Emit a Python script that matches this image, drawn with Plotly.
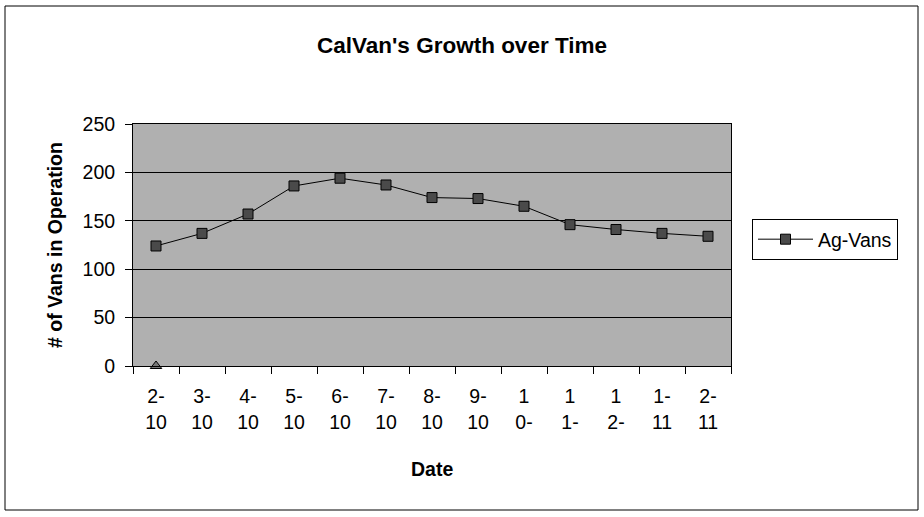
import plotly.graph_objects as go

dates = ["2-10", "3-10", "4-10", "5-10", "6-10", "7-10", "8-10", "9-10",
         "10-10", "11-10", "12-10", "1-11", "2-11"]
tick_labels = ["2-<br>10", "3-<br>10", "4-<br>10", "5-<br>10", "6-<br>10", "7-<br>10",
               "8-<br>10", "9-<br>10", "1<br>0-", "1<br>1-", "1<br>2-", "1-<br>11", "2-<br>11"]
ag_vans = [124, 137, 157, 186, 194, 187, 174, 173, 165, 146, 141, 137, 134]
other_dates = ["2-10"]
other_vals = [0]
y_ticks = [0, 50, 100, 150, 200, 250]

W, H = 924, 517
L, R, T, B = 133, 193, 124, 151
pw, ph = W - L - R, H - T - B

def px_x(x):
    return (x - L) / pw

def px_y(y):
    return (H - B - y) / ph

FONT = "Liberation Sans, Arial, sans-serif"

fig = go.Figure()
fig.add_trace(go.Scatter(
    x=dates, y=ag_vans, name="Ag-Vans", mode="lines+markers",
    line=dict(color="black", width=1),
    marker=dict(symbol="square", size=10, color="#4a4a4a",
                line=dict(color="black", width=1)),
))
fig.add_trace(go.Scatter(
    x=other_dates, y=other_vals, name="Other", mode="markers", showlegend=False,
    marker=dict(symbol="triangle-up", size=10, color="#777777",
                line=dict(color="black", width=1)),
    cliponaxis=False,
))

fig.update_layout(
    width=W, height=H,
    margin=dict(l=L, r=R, t=T, b=B, autoexpand=False),
    paper_bgcolor="white",
    plot_bgcolor="#b0b0b0",
    font=dict(family=FONT, size=20, color="black"),
    title=dict(text="<b>CalVan's Growth over Time</b>", x=0.5, xanchor="center",
               y=1 - 45 / H, yanchor="middle", font=dict(size=22.5, family=FONT)),
    xaxis=dict(
        type="category", categoryorder="array", categoryarray=dates,
        tickmode="array", tickvals=dates, ticktext=tick_labels,
        tickson="boundaries", ticks="outside", ticklen=7, tickcolor="black",
        showline=True, linecolor="black", linewidth=1, mirror=True,
        showgrid=False, range=[-0.5, len(dates) - 0.5],
        tickfont=dict(size=19.5), ticklabelstandoff=13,
    ),
    yaxis=dict(
        range=[0, 250], tickvals=y_ticks, ticks="outside", ticklen=7,
        tickcolor="black", showline=True, linecolor="black", linewidth=1,
        mirror=True, showgrid=True, gridcolor="black", gridwidth=1,
        zeroline=False, tickfont=dict(size=19.5), ticklabelstandoff=6,
    ),
    legend=dict(
        x=px_x(752), y=px_y(219), xanchor="left", yanchor="top",
        bordercolor="black", borderwidth=1, bgcolor="white",
        font=dict(size=19.5), itemwidth=55,
    ),
    annotations=[
        dict(text="<b># of Vans in Operation</b>", xref="paper", yref="paper",
             x=px_x(55), y=0.5, xanchor="center", yanchor="middle",
             textangle=-90, showarrow=False, font=dict(size=19.5)),
        dict(text="<b>Date</b>", xref="paper", yref="paper",
             x=0.5, y=px_y(469), xanchor="center", yanchor="middle",
             showarrow=False, font=dict(size=19.5)),
    ],
    shapes=[
        dict(type="rect", xref="paper", yref="paper",
             x0=px_x(5), x1=px_x(918), y0=px_y(510), y1=px_y(6),
             line=dict(color="black", width=1), layer="below"),
    ],
)

fig.write_html("out.html", config={"displayModeBar": False},
               post_script="document.body.style.margin='0';document.body.style.padding='0';")
